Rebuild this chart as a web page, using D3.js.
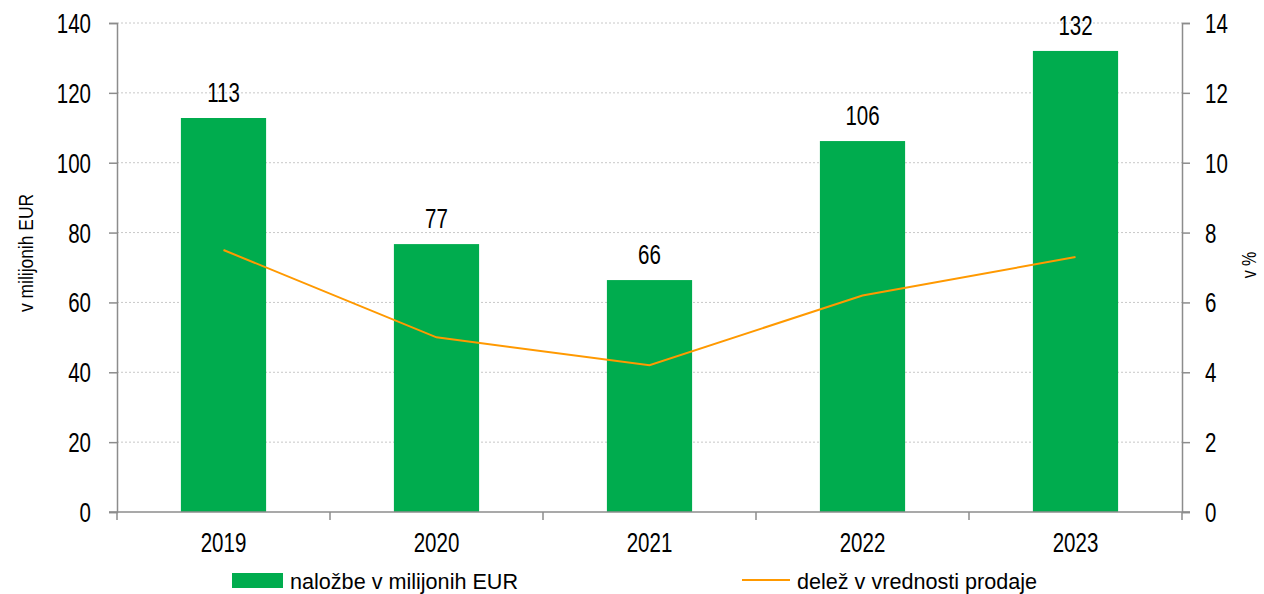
<!DOCTYPE html>
<html>
<head>
<meta charset="utf-8">
<script src="https://cdn.jsdelivr.net/npm/d3@7"></script>
<style>
  body { margin: 0; background: #fff; }
  text { font-family: "Liberation Sans", Arial, sans-serif; fill: #000; }
</style>
</head>
<body>
<div id="chart"></div>
<script>
// data
const years = ["2019", "2020", "2021", "2022", "2023"];
const investments = [112.8, 76.7, 66.4, 106.2, 132.0];
const shareOfSales = [7.5, 5.0, 4.2, 6.2, 7.3];
const leftTicks = [0, 20, 40, 60, 80, 100, 120, 140];
const rightTicks = [0, 2, 4, 6, 8, 10, 12, 14];
const legendLabels = ["naložbe v milijonih EUR", "delež v vrednosti prodaje"];

const W = 1264, H = 594;
const margin = { top: 23, right: 82, bottom: 82, left: 117 };
const width = W - margin.left - margin.right;
const height = H - margin.top - margin.bottom;

const green = "#00ac4e", orange = "#ff9900", axisCol = "#8c8c8c";
const fs = "27px";   // number labels, drawn a bit narrow like the original
const squeeze = 0.76;

const svg = d3.select("#chart").append("svg")
    .attr("width", W)
    .attr("height", H);

const g = svg.append("g")
    .attr("transform", `translate(${margin.left},${margin.top})`);

const x = d3.scaleBand()
    .domain(years)
    .range([0, width])
    .paddingInner(0.6)
    .paddingOuter(0.3);

const y = d3.scaleLinear().domain([0, 140]).range([height, 0]);
const y2 = d3.scaleLinear().domain([0, 14]).range([height, 0]);

// narrow text helper
function narrow(sel, px, py) {
    sel.attr("x", 0).attr("y", 0)
        .attr("transform", `translate(${px},${py}) scale(${squeeze},1)`);
}

// gridlines
g.append("g")
    .selectAll("line")
    .data(leftTicks.slice(1))
    .enter().append("line")
    .attr("x1", 0)
    .attr("x2", width)
    .attr("y1", d => y(d))
    .attr("y2", d => y(d))
    .attr("stroke", "#c8c8c8")
    .attr("stroke-width", 1)
    .attr("stroke-dasharray", "2,2");

// bars
g.selectAll(".bar")
    .data(investments)
    .enter().append("rect")
    .attr("class", "bar")
    .attr("x", (d, i) => x(years[i]))
    .attr("y", d => y(d))
    .attr("width", x.bandwidth())
    .attr("height", d => height - y(d))
    .attr("fill", green);

// bar labels
g.selectAll(".lbl")
    .data(investments)
    .enter().append("text")
    .attr("class", "lbl")
    .attr("text-anchor", "middle")
    .style("font-size", fs)
    .text(d => d3.format(".0f")(d))
    .each(function(d, i) {
        narrow(d3.select(this), x(years[i]) + x.bandwidth() / 2, y(d) - 16);
    });

// line
const line = d3.line()
    .x((d, i) => x(years[i]) + x.bandwidth() / 2)
    .y(d => y2(d));

g.append("path")
    .datum(shareOfSales)
    .attr("d", line)
    .attr("fill", "none")
    .attr("stroke", orange)
    .attr("stroke-width", 2);

// axes
const leftAxis = g.append("g")
    .call(d3.axisLeft(y).tickValues(leftTicks).tickSize(8).tickPadding(18));
const rightAxis = g.append("g")
    .attr("transform", `translate(${width},0)`)
    .call(d3.axisRight(y2).tickValues(rightTicks).tickSize(8).tickPadding(15));

[leftAxis, rightAxis].forEach(a => {
    a.select(".domain").attr("stroke", axisCol).attr("stroke-width", 1.5);
    a.selectAll(".tick line").attr("stroke", axisCol).attr("stroke-width", 1.5);
    a.selectAll(".tick text").style("font-size", fs).attr("fill", "#000")
        .each(function() {
            const t = d3.select(this);
            const px = +t.attr("x");
            t.attr("dy", null).attr("dominant-baseline", null);
            narrow(t, px, 9.5);
        });
});

// x axis with ticks at category boundaries
const xAxis = g.append("g").attr("transform", `translate(0,${height})`);
xAxis.append("line")
    .attr("x1", -8).attr("x2", width + 8)
    .attr("stroke", axisCol).attr("stroke-width", 1.5);
xAxis.selectAll(".xt")
    .data(d3.range(years.length + 1))
    .enter().append("line")
    .attr("x1", i => i * x.step())
    .attr("x2", i => i * x.step())
    .attr("y1", 0).attr("y2", 8)
    .attr("stroke", axisCol).attr("stroke-width", 1.5);
xAxis.selectAll(".xl")
    .data(years)
    .enter().append("text")
    .attr("text-anchor", "middle")
    .style("font-size", fs)
    .text(d => d)
    .each(function(d) {
        narrow(d3.select(this), x(d) + x.bandwidth() / 2, 40);
    });

// axis titles
svg.append("text")
    .attr("transform", "translate(33,253) rotate(-90) scale(0.83,1)")
    .attr("text-anchor", "middle")
    .style("font-size", "21px")
    .text("v milijonih EUR");

svg.append("text")
    .attr("transform", "translate(1256,265) rotate(-90) scale(0.8,1)")
    .attr("text-anchor", "middle")
    .style("font-size", "20px")
    .text("v %");

// legend
const legend = svg.append("g");
legend.append("rect")
    .attr("x", 232).attr("y", 573)
    .attr("width", 51).attr("height", 15)
    .attr("fill", green);
legend.append("text")
    .attr("x", 290).attr("y", 589)
    .style("font-size", "21.6px")
    .text(legendLabels[0]);
legend.append("line")
    .attr("x1", 742).attr("x2", 790)
    .attr("y1", 580).attr("y2", 580)
    .attr("stroke", orange).attr("stroke-width", 2);
legend.append("text")
    .attr("x", 797).attr("y", 589)
    .style("font-size", "21.6px")
    .text(legendLabels[1]);
</script>
</body>
</html>
